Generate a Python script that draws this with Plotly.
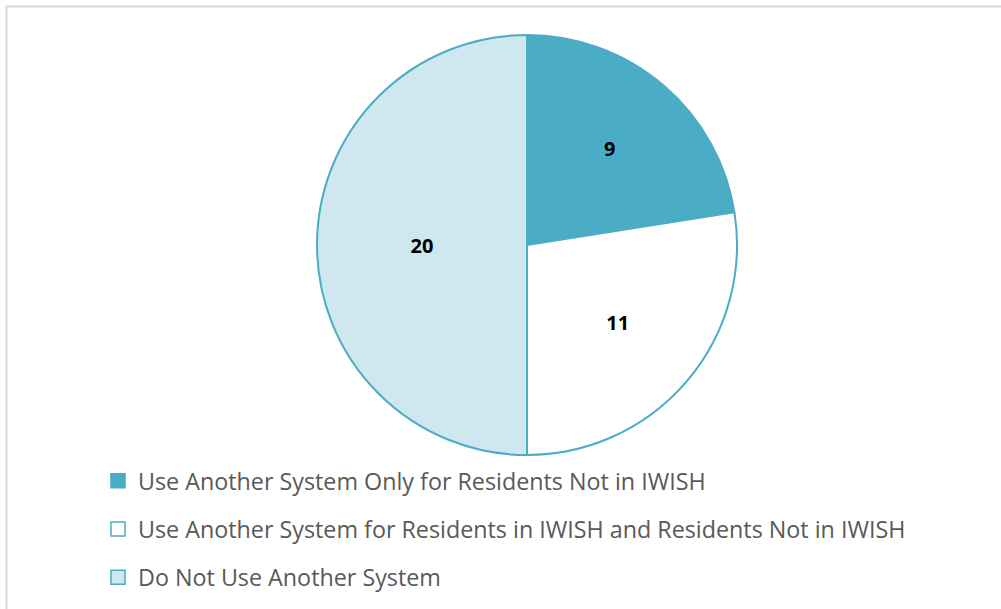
import plotly.graph_objects as go

labels = ["Use Another System Only for Residents Not in IWISH",
          "Use Another System for Residents in IWISH and Residents Not in IWISH",
          "Do Not Use Another System"]
values = [9, 11, 20]
colors = ["#4BACC6", "#FFFFFF", "#CFE7EF"]
edge = "#4BACC6"

W, H = 1001, 609
fig = go.Figure()
fig.add_trace(go.Pie(
    labels=labels, values=values, sort=False, direction="clockwise", rotation=0,
    marker=dict(colors=colors, line=dict(color=edge, width=2)),
    textinfo="value", textposition="inside", insidetextorientation="horizontal",
    textfont=dict(family="Open Sans", size=20, color="#000000", weight="bold"),
    domain=dict(x=[317/W, 737/W], y=[1-455/H, 1-35/H]),
    showlegend=False, hoverinfo="label+value",
))
for i, (lab, col) in enumerate(zip(labels, colors)):
    fig.add_trace(go.Scatter(
        x=[None], y=[None], mode="markers", name=lab, legendgroup=f"g{i}",
        marker=dict(symbol="square", size=14, color=col, line=dict(color=edge, width=1.5)),
        showlegend=True,
    ))

fig.update_layout(
    width=W, height=H, margin=dict(l=0, r=0, t=0, b=0),
    paper_bgcolor="white", plot_bgcolor="white",
    xaxis=dict(visible=False), yaxis=dict(visible=False),
    showlegend=True,
    legend=dict(x=98/W, y=1-459/H, xanchor="left", yanchor="top",
                font=dict(family="Open Sans", size=23.3, color="#595959"),
                tracegroupgap=15, bgcolor="rgba(0,0,0,0)"),
    shapes=[dict(type="rect", xref="paper", yref="paper",
                 x0=6.5/W, x1=1.02, y0=-0.02, y1=1-6.5/H,
                 line=dict(color="#D9D9D9", width=2), fillcolor="rgba(0,0,0,0)")],
)
fig.write_html("out.html")
